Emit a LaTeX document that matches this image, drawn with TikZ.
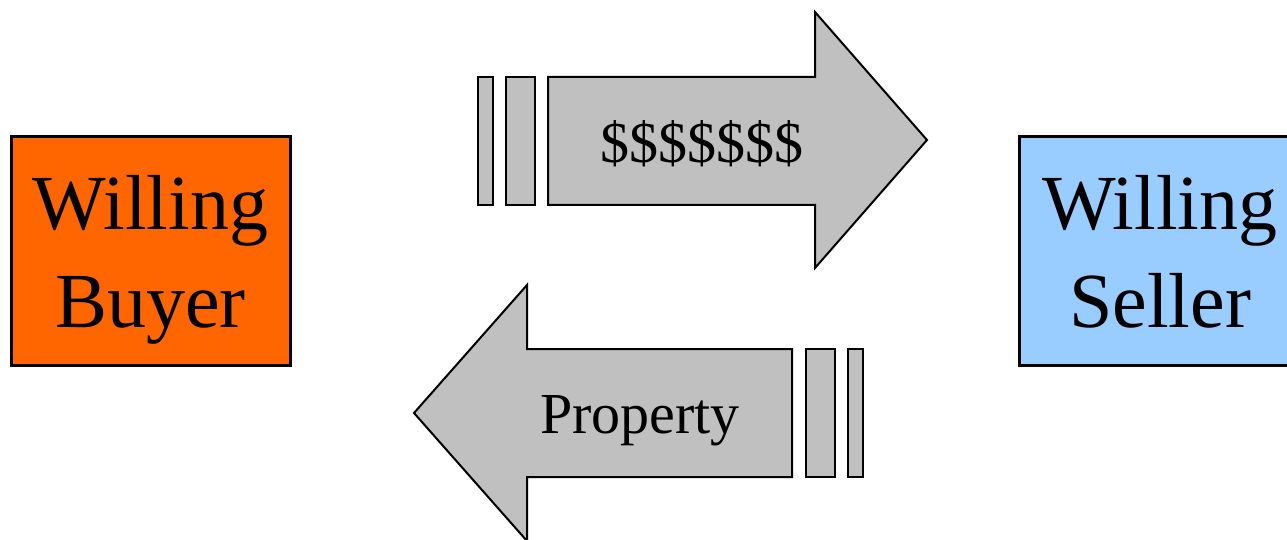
\documentclass[tikz,border=0pt]{standalone}
\usepackage{fontspec}
\setmainfont{Liberation Serif}
\usetikzlibrary{positioning}
\definecolor{buyerorange}{HTML}{FF6600}
\definecolor{sellerblue}{HTML}{99CCFF}
\definecolor{arrowgray}{HTML}{C0C0C0}

\begin{document}
\begin{tikzpicture}[
  x=0.5pt,y=-0.5pt,
  party/.style={draw=black,line width=1.5pt,minimum width=139.5pt,minimum height=114pt,inner sep=0pt,text depth=0pt,align=center,font=\fontsize{39}{49}\selectfont},
  bigarrow/.style={draw=black,line width=1pt,fill=arrowgray,line join=miter},
  bar/.style={draw=black,line width=1pt,fill=arrowgray,inner sep=0pt,minimum height=64pt},
  tag/.style={font=\fontsize{29}{34}\selectfont,inner sep=0pt,anchor=base}
]
\useasboundingbox (0,0) rectangle (1287,540);
\node[party,fill=buyerorange] (buyer) at (150.5,251) {Willing\\Buyer};
\node[party,fill=sellerblue,minimum width=141pt] (seller) at (1160,251) {Willing\\Seller};

% money to the seller
\draw[bigarrow] (548,77) -- (815,77) -- (815,12) -- (927,140) -- (815,268) -- (815,205) -- (548,205) -- cycle;
\node[bar,minimum width=7.5pt] (pay1) at (485.5,141) {};
\node[bar,minimum width=14.5pt] (pay2) at (520.5,141) {};
\node[tag] (money) at (702,163) {\$\$\$\$\$\$\$};

% property to the buyer
\draw[bigarrow] (792,349) -- (527,349) -- (527,285) -- (414,413) -- (527,541) -- (527,477) -- (792,477) -- cycle;
\node[bar,minimum width=14.5pt] (give1) at (820.5,413) {};
\node[bar,minimum width=7.5pt] (give2) at (855.5,413) {};
\node[tag] (goods) at (640,433) {Property};
\end{tikzpicture}
\end{document}
